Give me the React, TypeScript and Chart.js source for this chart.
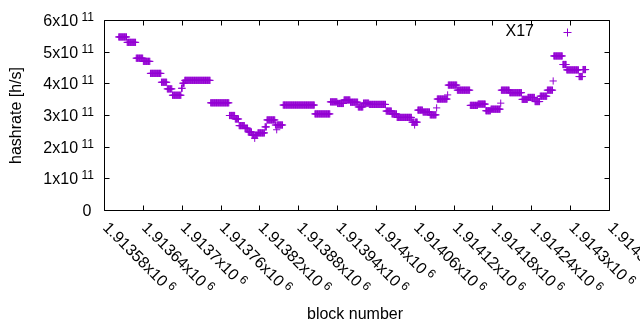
import { useEffect, useRef } from "react";
import { Chart, registerables } from "chart.js";

Chart.register(...registerables);

// Runs of consecutive blocks sharing the same hashrate (values in units of 1e11 h/s)
const runStart = [
  1913602, 1913615, 1913629, 1913640, 1913651, 1913668, 1913677, 1913685, 1913699, 1913701,
  1913704, 1913744, 1913773, 1913782, 1913788, 1913797, 1913802, 1913808, 1913812, 1913813,
  1913817, 1913828, 1913831, 1913844, 1913846, 1913847, 1913856, 1913905, 1913929, 1913940,
  1913950, 1913960, 1913972, 1913980, 1913989, 1914015, 1914024, 1914032, 1914055, 1914059,
  1914060, 1914064, 1914072, 1914083, 1914093, 1914094, 1914110, 1914111, 1914125, 1914145,
  1914157, 1914169, 1914177, 1914192, 1914193, 1914206, 1914225, 1914234, 1914245, 1914253,
  1914264, 1914273, 1914274, 1914288, 1914294, 1914313, 1914319,
];
const runEnd = [
  1913614, 1913628, 1913639, 1913650, 1913667, 1913676, 1913684, 1913698, 1913700, 1913703,
  1913743, 1913772, 1913781, 1913787, 1913796, 1913801, 1913807, 1913811, 1913812, 1913816,
  1913827, 1913830, 1913843, 1913845, 1913846, 1913855, 1913904, 1913928, 1913939, 1913949,
  1913959, 1913971, 1913979, 1913988, 1914014, 1914023, 1914031, 1914054, 1914058, 1914059,
  1914063, 1914071, 1914082, 1914092, 1914093, 1914109, 1914110, 1914124, 1914144, 1914156,
  1914168, 1914176, 1914191, 1914192, 1914205, 1914224, 1914233, 1914244, 1914252, 1914263,
  1914272, 1914273, 1914287, 1914293, 1914312, 1914318, 1914323,
];
const runValue = [
  5.48, 5.31, 4.81, 4.71, 4.33, 4.05, 3.84, 3.64, 3.86, 4.02,
  4.11, 3.40, 3.00, 2.89, 2.68, 2.60, 2.48, 2.38, 2.28, 2.38,
  2.45, 2.64, 2.86, 2.70, 2.55, 2.70, 3.33, 3.05, 3.43, 3.38,
  3.49, 3.42, 3.27, 3.39, 3.35, 3.14, 3.05, 2.94, 2.79, 2.70,
  2.79, 3.17, 3.11, 3.02, 3.24, 3.52, 3.65, 3.96, 3.80, 3.32,
  3.36, 3.15, 3.20, 3.39, 3.80, 3.72, 3.51, 3.57, 3.44, 3.61,
  3.80, 4.09, 4.88, 4.61, 4.44, 4.23, 4.45,
];

const xTickValues = [
  1913580, 1913640, 1913700, 1913760, 1913820, 1913880, 1913940,
  1914000, 1914060, 1914120, 1914180, 1914240, 1914300, 1914360,
];
const xTickLabels = [
  "1.91358", "1.91364", "1.9137", "1.91376", "1.91382", "1.91388", "1.91394",
  "1.914", "1.91406", "1.91412", "1.91418", "1.91424", "1.9143", "1.91436",
];
const xTickExponent = "6";
const yTickValues = [0, 1e11, 2e11, 3e11, 4e11, 5e11, 6e11];
const yTickMantissa = ["0", "1", "2", "3", "4", "5", "6"];
const yTickExponent = "11";

const seriesName = "X17";
const xTitle = "block number";
const yTitle = "hashrate [h/s]";
const COLOR = "#9400d3";
const FONT = "'Liberation Sans', Arial, sans-serif";

const gnuplotPlugin = {
  id: "gnuplotFrame",
  afterDraw(chart: any) {
    const ctx = chart.ctx as CanvasRenderingContext2D;
    const ca = chart.chartArea;
    const xs = chart.scales.x;
    const ys = chart.scales.y;
    const L = Math.floor(ca.left) + 0.5;
    const R = Math.floor(ca.right) + 0.5;
    const T = Math.floor(ca.top) + 0.5;
    const B = Math.floor(ca.bottom) + 0.5;
    ctx.save();
    ctx.strokeStyle = "#000";
    ctx.lineWidth = 1;
    ctx.beginPath();
    ctx.rect(L, T, R - L, B - T);
    const tl = 5;
    xTickValues.forEach((v) => {
      const p = Math.floor(xs.getPixelForValue(v)) + 0.5;
      ctx.moveTo(p, B);
      ctx.lineTo(p, B - tl);
      ctx.moveTo(p, T);
      ctx.lineTo(p, T + tl);
    });
    yTickValues.forEach((v) => {
      const p = Math.floor(ys.getPixelForValue(v)) + 0.5;
      ctx.moveTo(L, p);
      ctx.lineTo(L + tl, p);
      ctx.moveTo(R, p);
      ctx.lineTo(R - tl, p);
    });
    ctx.stroke();

    ctx.fillStyle = "#000";
    // Y tick labels
    yTickValues.forEach((v, i) => {
      const p = ys.getPixelForValue(v);
      if (yTickMantissa[i] === "0") {
        ctx.font = `16px ${FONT}`;
        ctx.textAlign = "right";
        ctx.textBaseline = "alphabetic";
        ctx.fillText("0", 91.5, p + 5.5);
        return;
      }
      const main = `${yTickMantissa[i]}x10`;
      ctx.font = `12px ${FONT}`;
      const sw = ctx.measureText(yTickExponent).width;
      ctx.textAlign = "right";
      ctx.textBaseline = "alphabetic";
      ctx.fillText(yTickExponent, 94, p + 0.5);
      ctx.font = `16px ${FONT}`;
      ctx.fillText(main, 94 - sw - 3.5, p + 5.5);
    });

    // X tick labels, rotated
    xTickValues.forEach((v, i) => {
      const p = xs.getPixelForValue(v);
      ctx.save();
      ctx.translate(p + 1.5, 224.5);
      ctx.rotate(Math.PI / 4);
      ctx.textAlign = "left";
      ctx.textBaseline = "alphabetic";
      ctx.font = `16px ${FONT}`;
      const main = `${xTickLabels[i]}x10`;
      ctx.fillText(main, 0, 5.5);
      const mw = ctx.measureText(main).width;
      ctx.font = `12px ${FONT}`;
      ctx.fillText(xTickExponent, mw + 3.5, 0.5);
      ctx.restore();
    });

    // Axis titles
    ctx.font = `16px ${FONT}`;
    ctx.textAlign = "center";
    ctx.textBaseline = "middle";
    ctx.fillText(xTitle, 355, 315);
    ctx.save();
    ctx.translate(17, (T + B) / 2);
    ctx.rotate(-Math.PI / 2);
    ctx.fillText(yTitle, 0, 0);
    ctx.restore();

    // Key
    ctx.textAlign = "right";
    ctx.fillText(seriesName, 534, 32);
    ctx.strokeStyle = COLOR;
    ctx.beginPath();
    ctx.moveTo(567.5, 28.5);
    ctx.lineTo(567.5, 36.5);
    ctx.moveTo(563.5, 32.5);
    ctx.lineTo(571.5, 32.5);
    ctx.stroke();
    ctx.restore();
  },
};

export default function App() {
  const ref = useRef<HTMLCanvasElement | null>(null);
  useEffect(() => {
    if (!ref.current) return;
    const pts: { x: number; y: number }[] = [];
    runStart.forEach((s, i) => {
      for (let b = s; b <= runEnd[i]; b++) pts.push({ x: b, y: runValue[i] * 1e11 });
    });
    const chart = new Chart(ref.current, {
      type: "scatter",
      data: {
        datasets: [
          {
            label: seriesName,
            data: pts,
            pointStyle: "cross",
            pointRadius: 3.6,
            pointBorderWidth: 1,
            borderColor: COLOR,
            backgroundColor: COLOR,
            showLine: false,
          },
        ],
      },
      options: {
        animation: false,
        responsive: false,
        events: [],
        layout: { padding: { left: 104.5, right: 30.5, top: 20.5, bottom: 119.5 } },
        scales: {
          x: { type: "linear", min: 1913580, max: 1914360, display: false },
          y: { type: "linear", min: 0, max: 6e11, display: false },
        },
        plugins: { legend: { display: false }, tooltip: { enabled: false } },
      },
      plugins: [gnuplotPlugin],
    });
    return () => chart.destroy();
  }, []);
  return (
    <div style={{ position: "absolute", left: 0, top: 0, width: 640, height: 330, background: "#fff" }}>
      <canvas ref={ref} width={640} height={330} style={{ display: "block" }} />
    </div>
  );
}
